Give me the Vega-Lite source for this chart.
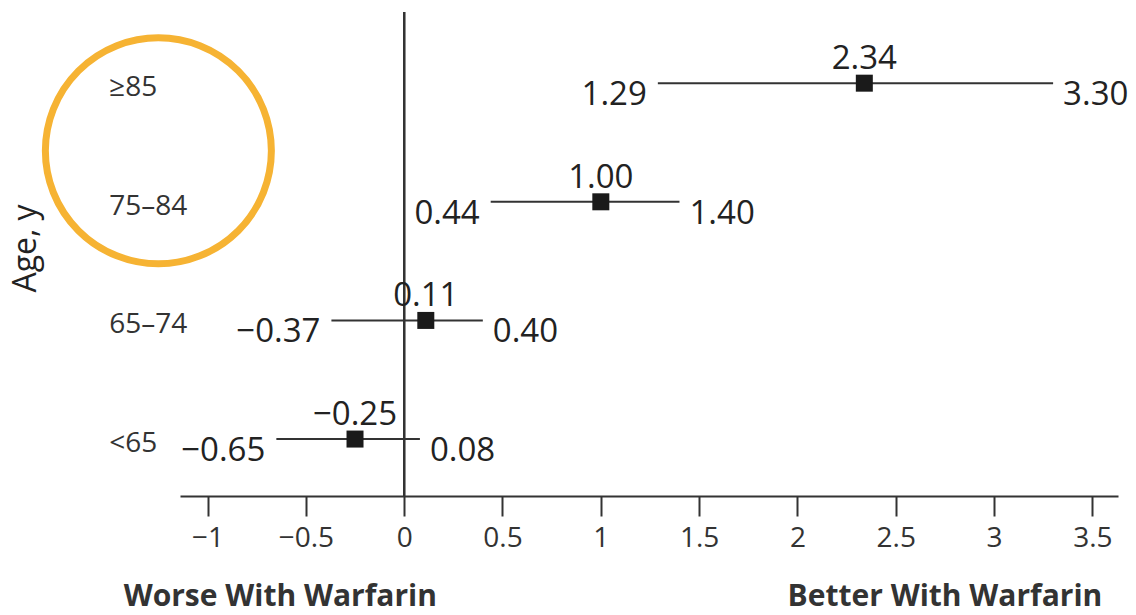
{
  "$schema": "https://vega.github.io/schema/vega-lite/v6.json",
  "autosize": {"type": "none"},
  "padding": {"left": 180, "top": 12, "right": 18, "bottom": 119},
  "width": 938,
  "height": 484,
  "background": "white",
  "config": {"view": {"stroke": null}, "font": "Open Sans"},
  "datasets": {
    "rows": [
      {"age": "≥85", "row": 4, "est": 2.34, "lo": 1.29, "hi": 3.30},
      {"age": "75–84", "row": 3, "est": 1.00, "lo": 0.44, "hi": 1.40},
      {"age": "65–74", "row": 2, "est": 0.11, "lo": -0.37, "hi": 0.40},
      {"age": "<65", "row": 1, "est": -0.25, "lo": -0.65, "hi": 0.08}
    ],
    "notes": [
      {"x": -0.63, "y": -0.405, "label": "Worse With Warfarin"},
      {"x": 2.75, "y": -0.405, "label": "Better With Warfarin"}
    ],
    "highlight": [
      {"x": -1.25, "y": 3.43}
    ]
  },
  "layer": [
    {
      "data": {"name": "rows"},
      "mark": {"type": "rule", "color": "#333333", "strokeWidth": 2},
      "encoding": {
        "x": {"datum": 0, "type": "quantitative",
          "scale": {"domain": [-1.14, 3.63], "nice": false, "zero": false},
          "axis": {
            "values": [-1, -0.5, 0, 0.5, 1, 1.5, 2, 2.5, 3, 3.5],
            "format": "~g",
            "title": null, "grid": false,
            "domainColor": "#333333", "domainWidth": 2,
            "tickColor": "#333333", "tickWidth": 2, "tickSize": 20,
            "labelFontSize": 28, "labelColor": "#333333", "labelPadding": 8,
            "labelFont": "Open Sans", "labelFlush": false
          }
        }
      }
    },
    {
      "data": {"name": "rows"},
      "mark": {"type": "rule", "color": "#333333", "strokeWidth": 2},
      "encoding": {
        "x": {"field": "lo", "type": "quantitative"},
        "x2": {"field": "hi"},
        "y": {"field": "row", "type": "quantitative",
          "scale": {"domain": [0.52, 4.6], "nice": false, "zero": false},
          "axis": {
            "labels": false, "ticks": false, "domain": false, "grid": false,
            "title": "Age, y", "titleFont": "Open Sans", "titleFontSize": 32,
            "titleFontWeight": "normal", "titleColor": "#222222",
            "titleAngle": -90, "titleX": -155, "titleY": 236,
            "titleAlign": "center", "titleBaseline": "middle"
          }
        }
      }
    },
    {
      "data": {"name": "rows"},
      "mark": {"type": "point", "shape": "square", "filled": true, "size": 289, "color": "#1a1a1a", "opacity": 1},
      "encoding": {
        "x": {"field": "est", "type": "quantitative"},
        "y": {"field": "row", "type": "quantitative"}
      }
    },
    {
      "data": {"name": "rows"},
      "mark": {"type": "text", "fontSize": 33, "baseline": "alphabetic", "align": "center", "dy": -14, "color": "#222222"},
      "encoding": {
        "x": {"field": "est", "type": "quantitative"},
        "y": {"field": "row", "type": "quantitative"},
        "text": {"field": "est", "type": "quantitative", "format": ".2f"}
      }
    },
    {
      "data": {"name": "rows"},
      "mark": {"type": "text", "fontSize": 33, "baseline": "alphabetic", "align": "right", "dx": -11, "dy": 22, "color": "#222222"},
      "encoding": {
        "x": {"field": "lo", "type": "quantitative"},
        "y": {"field": "row", "type": "quantitative"},
        "text": {"field": "lo", "type": "quantitative", "format": ".2f"}
      }
    },
    {
      "data": {"name": "rows"},
      "mark": {"type": "text", "fontSize": 33, "baseline": "alphabetic", "align": "left", "dx": 10, "dy": 22, "color": "#222222"},
      "encoding": {
        "x": {"field": "hi", "type": "quantitative"},
        "y": {"field": "row", "type": "quantitative"},
        "text": {"field": "hi", "type": "quantitative", "format": ".2f"}
      }
    },
    {
      "data": {"name": "rows"},
      "mark": {"type": "text", "fontSize": 28, "baseline": "middle", "align": "left", "dy": 5, "color": "#333333"},
      "encoding": {
        "x": {"datum": -1.5, "type": "quantitative"},
        "y": {"field": "row", "type": "quantitative"},
        "text": {"field": "age"}
      }
    },
    {
      "data": {"name": "notes"},
      "mark": {"type": "text", "fontSize": 30, "fontWeight": "bold", "baseline": "alphabetic", "align": "center", "color": "#333333"},
      "encoding": {
        "x": {"field": "x", "type": "quantitative"},
        "y": {"field": "y", "type": "quantitative"},
        "text": {"field": "label"}
      }
    },
    {
      "data": {"name": "highlight"},
      "mark": {"type": "point", "shape": "circle", "filled": false, "size": 51076, "stroke": "#F6B333", "strokeWidth": 7, "opacity": 1},
      "encoding": {
        "x": {"field": "x", "type": "quantitative"},
        "y": {"field": "y", "type": "quantitative"}
      }
    }
  ]
}
